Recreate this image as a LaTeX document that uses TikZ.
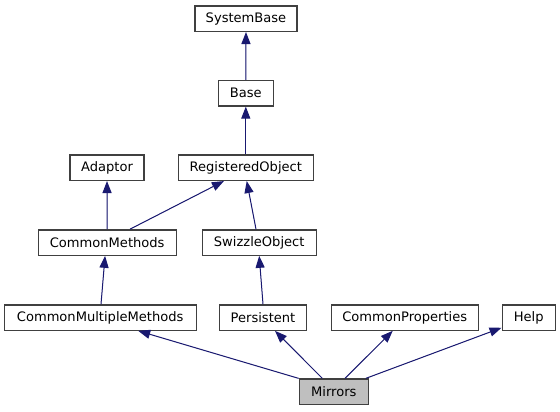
\documentclass[tikz,border=0pt]{standalone}
\usepackage{fontspec}
\setmainfont{DejaVu Sans}
\usetikzlibrary{arrows.meta}

\definecolor{edgeblue}{RGB}{25,25,112}
\definecolor{boxline}{RGB}{64,64,64}
\definecolor{boxfill}{RGB}{191,191,191}

\tikzset{
  classbox/.style={draw=boxline, line width=1pt, fill=white, inner sep=0pt,
    minimum height=19pt, font=\fontsize{9.8pt}{11pt}\selectfont},
  inherit/.style={draw=edgeblue, line width=0.75pt,
    -{Triangle[length=9pt,width=6.8pt]}, fill=edgeblue}
}

\begin{document}
\begin{tikzpicture}[x=0.75pt, y=-0.75pt]
% Set the canvas (pixel units)
\useasboundingbox (0,0) rectangle (560,411);

% Draw the class boxes, row by row
\node[classbox, minimum width=76.5pt] (systembase) at (246, 18.7) {SystemBase};
\node[classbox, minimum width=41.25pt] (base) at (245.8, 93.3) {Base};
\node[classbox, minimum width=55.5pt] (adaptor) at (107, 167.7) {Adaptor};
\node[classbox, minimum width=101.25pt] (registered) at (245.8, 167.7) {RegisteredObject};
\node[classbox, minimum width=103.5pt] (methods) at (107.2, 242.5) {CommonMethods};
\node[classbox, minimum width=85.5pt] (swizzle) at (259.2, 242.5) {SwizzleObject};
\node[classbox, minimum width=144pt] (multiple) at (100.2, 317.5) {CommonMultipleMethods};
\node[classbox, minimum width=65.25pt] (persistent) at (263, 317.5) {Persistent};
\node[classbox, minimum width=110.25pt] (properties) at (404.7, 317.5) {CommonProperties};
\node[classbox, minimum width=39.75pt] (help) at (528.7, 317.5) {Help};
\node[classbox, minimum width=51.75pt, fill=boxfill] (mirrors) at (333.8, 391.7) {Mirrors};

% Draw the inheritance edges (child -> parent)
\draw[inherit] (base.north) -- (systembase.south);
\draw[inherit] (registered.north) -- (base.south);
\draw[inherit] (methods.north) -- (adaptor.south);
\draw[inherit] ([xshift=17.1pt]methods.north) -- ([xshift=-16.4pt]registered.south);
\draw[inherit] ([xshift=-2.4pt]swizzle.north) -- ([xshift=0.7pt]registered.south);
\draw[inherit] ([xshift=0.6pt]multiple.north) -- ([xshift=-1.6pt]methods.south);
\draw[inherit] (persistent.north) -- (swizzle.south);
\draw[inherit] (mirrors.north west) -- ([xshift=28.5pt]multiple.south);
\draw[inherit] ([xshift=-8.6pt]mirrors.north) -- ([xshift=9pt]persistent.south);
\draw[inherit] ([xshift=8.4pt]mirrors.north) -- ([xshift=-9pt]properties.south);
\draw[inherit] ([xshift=24pt]mirrors.north) -- ([yshift=2.3pt]help.south west);
\end{tikzpicture}
\end{document}
